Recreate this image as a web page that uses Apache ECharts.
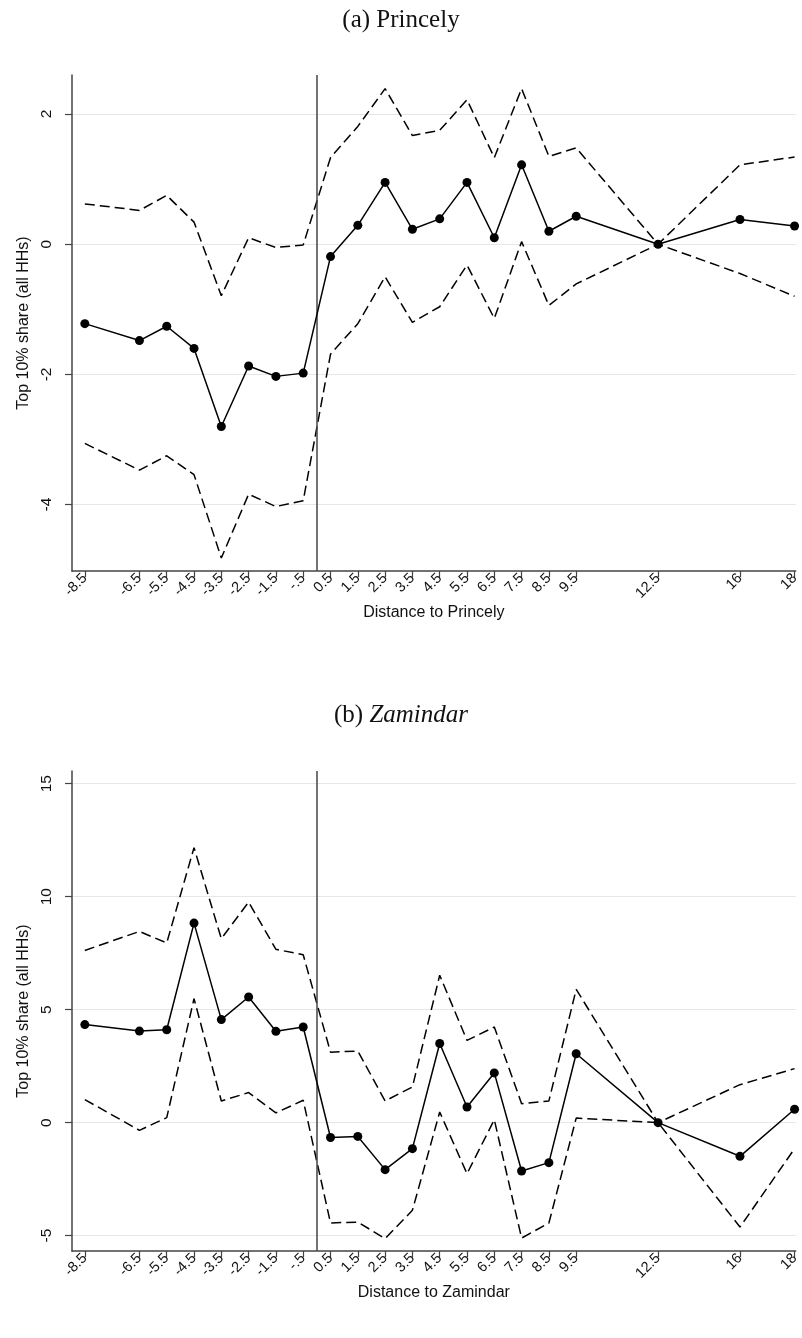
<!DOCTYPE html>
<html>
<head>
<meta charset="utf-8">
<script src="https://cdn.jsdelivr.net/npm/echarts@6/dist/echarts.min.js"></script>
<style>
html,body{margin:0;padding:0;background:#fff;}
#c{width:802px;height:1338px;}
</style>
</head>
<body>
<div id="c"></div>
<script>
// x positions (16 and 18 are drawn at 15.5 and 17.5 on the axis scale)
var xPos = [-8.5,-6.5,-5.5,-4.5,-3.5,-2.5,-1.5,-0.5,0.5,1.5,2.5,3.5,4.5,5.5,6.5,7.5,8.5,9.5,12.5,15.5,17.5];
var xTickLabels = ["-8.5","-6.5","-5.5","-4.5","-3.5","-2.5","-1.5","-.5","0.5","1.5","2.5","3.5","4.5","5.5","6.5","7.5","8.5","9.5","12.5","16","18"];

// (a) Princely
var princelyEst   = [-1.22,-1.48,-1.26,-1.60,-2.80,-1.87,-2.03,-1.98,-0.19,0.29,0.95,0.23,0.39,0.95,0.10,1.22,0.20,0.43,0.00,0.38,0.28];
var princelyUpper = [0.62,0.52,0.75,0.34,-0.79,0.10,-0.05,-0.01,1.33,1.81,2.39,1.67,1.75,2.22,1.33,2.39,1.35,1.48,0.00,1.22,1.34];
var princelyLower = [-3.06,-3.47,-3.25,-3.54,-4.82,-3.84,-4.03,-3.94,-1.69,-1.22,-0.50,-1.20,-0.96,-0.32,-1.14,0.04,-0.94,-0.61,0.00,-0.45,-0.80];
var princelyYTicks = [-4,-2,0,2];

// (b) Zamindar
var zamEst   = [4.34,4.05,4.11,8.83,4.56,5.56,4.04,4.23,-0.66,-0.61,-2.08,-1.15,3.50,0.69,2.20,-2.14,-1.77,3.05,0.00,-1.49,0.59];
var zamUpper = [7.62,8.46,7.95,12.17,8.14,9.76,7.67,7.43,3.12,3.17,0.96,1.58,6.52,3.64,4.23,0.84,0.96,5.90,0.00,1.68,2.39];
var zamLower = [1.02,-0.34,0.22,5.49,0.96,1.33,0.43,0.99,-4.44,-4.40,-5.13,-3.88,0.47,-2.26,0.13,-5.11,-4.44,0.20,0.00,-4.62,-1.15];
var zamYTicks = [-5,0,5,10,15];

function pairs(ys){ return xPos.map(function(x,i){ return [x, ys[i]]; }); }
function xLabel(v){
  for (var i=0;i<xPos.length;i++){ if (Math.abs(xPos[i]-v)<1e-6) return xTickLabels[i]; }
  return '';
}
var axisColor = '#444';
function makeX(idx, name){
  return {
    type:'value', gridIndex:idx, min:-8.97, max:17.54,
    name:name, nameLocation:'middle', nameGap:33,
    nameTextStyle:{fontFamily:'Liberation Sans', fontSize:16, color:'#111'},
    axisLine:{show:true, onZero:false, lineStyle:{color:axisColor, width:1.5}},
    axisTick:{show:true, inside:false, customValues:xPos, length:6, lineStyle:{color:axisColor, width:1.2}},
    axisLabel:{customValues:xPos, rotate:45, formatter:xLabel, fontFamily:'Liberation Sans', fontSize:14.5, color:'#111', margin:5},
    splitLine:{show:false}
  };
}
function makeY(idx, min, max, ticks){
  return {
    type:'value', gridIndex:idx, min:min, max:max,
    name:'Top 10% share (all HHs)', nameLocation:'middle', nameGap:40, nameRotate:90,
    nameTextStyle:{fontFamily:'Liberation Sans', fontSize:16, color:'#111'},
    axisLine:{show:true, onZero:false, lineStyle:{color:axisColor, width:1.5}},
    axisTick:{show:true, inside:false, customValues:ticks, length:7, lineStyle:{color:axisColor, width:1.2}},
    axisLabel:{customValues:ticks, rotate:90, fontFamily:'Liberation Sans', fontSize:15.5, color:'#111', margin:17},
    splitLine:{show:true, lineStyle:{color:'#e6e6e6', width:1.2}}
  };
}
function estSeries(idx, ys, withLine){
  var s = {
    type:'line', xAxisIndex:idx, yAxisIndex:idx, data:pairs(ys),
    symbol:'circle', symbolSize:9, showSymbol:true,
    itemStyle:{color:'#000'}, lineStyle:{color:'#000', width:1.5},
    animation:false, z:5
  };
  if (withLine){
    s.markLine = {
      silent:true, symbol:'none', label:{show:false},
      lineStyle:{color:'#444', width:1.5, type:'solid'},
      data:[{xAxis:0}], animation:false
    };
  }
  return s;
}
function ciSeries(idx, ys){
  return {
    type:'line', xAxisIndex:idx, yAxisIndex:idx, data:pairs(ys),
    showSymbol:false, symbol:'none',
    lineStyle:{color:'#000', width:1.5, type:[10,5]},
    animation:false, z:4
  };
}

var chart = echarts.init(document.getElementById('c'), null, {renderer:'canvas'});
chart.setOption({
  backgroundColor:'#fff',
  animation:false,
  title:[
    {text:'(a) Princely', left:'center', top:3,
     textStyle:{fontFamily:'Liberation Serif', fontSize:25, fontWeight:'normal', color:'#111'}},
    {text:'{n|(b) }{i|Zamindar}', left:'center', top:698,
     textStyle:{fontWeight:'normal', rich:{
       n:{fontFamily:'Liberation Serif', fontSize:25, fontWeight:'normal', color:'#111'},
       i:{fontFamily:'Liberation Serif', fontSize:25, fontWeight:'normal', fontStyle:'italic', color:'#111'}
     }}}
  ],
  grid:[
    {left:72, right:2, top:75, height:496},
    {left:72, right:2, top:771, height:480}
  ],
  xAxis:[ makeX(0,'Distance to Princely'), makeX(1,'Distance to Zamindar') ],
  yAxis:[ makeY(0,-5.02,2.6,princelyYTicks), makeY(1,-5.68,15.56,zamYTicks) ],
  series:[
    ciSeries(0, princelyUpper), ciSeries(0, princelyLower), estSeries(0, princelyEst, true),
    ciSeries(1, zamUpper), ciSeries(1, zamLower), estSeries(1, zamEst, true)
  ]
});
</script>
</body>
</html>
